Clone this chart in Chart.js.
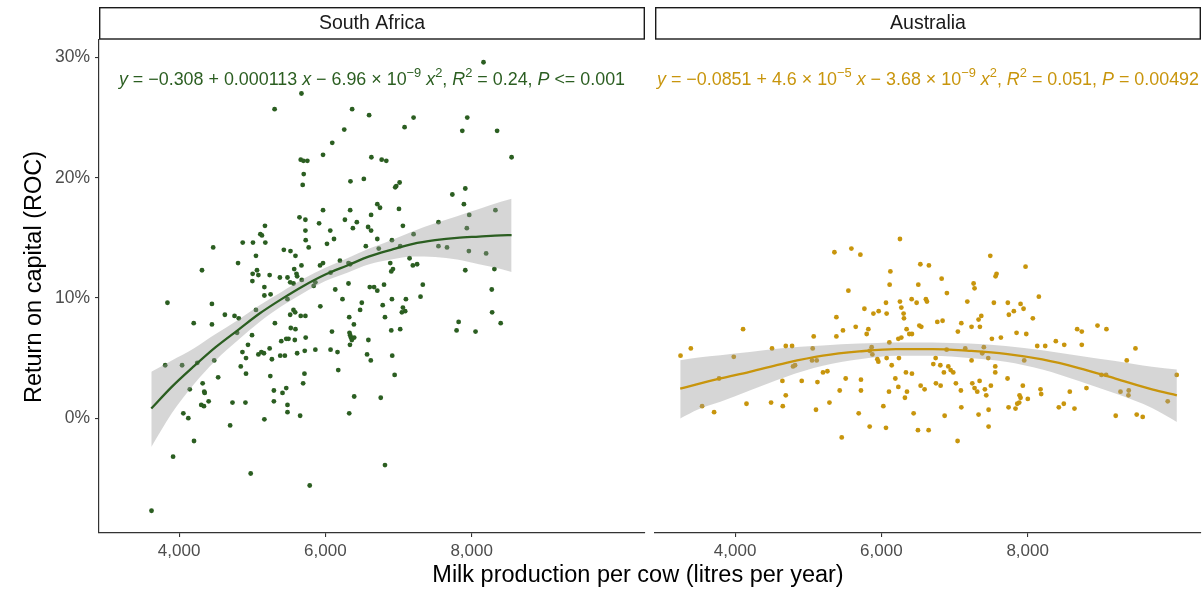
<!DOCTYPE html>
<html>
<head>
<meta charset="utf-8">
<script src="https://cdn.jsdelivr.net/npm/chart.js@4.4.1/dist/chart.umd.min.js"></script>
<style>
  html, body { margin: 0; padding: 0; background: #ffffff; }
  #wrap { position: relative; width: 1204px; height: 590px; }
  canvas { position: absolute; top: 0; }
  #saCanvas { left: 0; }
  #auCanvas { left: 650px; }
</style>
</head>
<body>
<div id="wrap">
  <canvas id="saCanvas" width="1204" height="590"></canvas>
  <canvas id="auCanvas" width="554" height="590"></canvas>
</div>
<script>
// ---- axis ticks and ranges ----
const milkTicks = [4000, 6000, 8000];
const rocTicks = [0, 10, 20, 30];
const milkRange = [2905, 10370];
const rocRange = [-9.55, 31.45];

// ---- South Africa: farms [milk per cow (L/yr), return on capital (%)] ----
const southAfricaFarms = [
  [8162,29.6],[5673,27.0],[5306,25.7],[6366,25.7],[6598,25.2],[6258,24.0],[6094,22.9],[5968,21.9],
  [6629,21.7],[6770,21.5],[6833,21.4],[5663,21.5],[5700,21.4],[5754,21.4],[5704,20.3],[5690,19.4],
  [6343,19.7],[6526,19.9],[6710,17.8],[6747,17.5],[5968,17.3],[6339,17.3],[5646,16.7],[5727,16.5],
  [6267,16.5],[6430,16.3],[6625,16.9],[5914,16.2],[5174,16.0],[5111,15.3],[5133,15.2],[5727,15.6],
  [6067,15.6],[6376,15.8],[6584,15.9],[6625,15.6],[4466,14.2],[4870,14.6],[5010,14.6],[5179,14.6],
  [5731,14.8],[5772,14.2],[6022,14.5],[6118,14.9],[6553,14.3],[6710,14.9],[6730,14.1],[5432,14.0],
  [5523,13.9],[5591,13.5],[5051,13.5],[4806,12.9],[4313,12.3],[5006,12.0],[5065,12.3],[5084,11.9],
  [5002,11.4],[5238,11.9],[5378,11.7],[5482,11.7],[5519,11.3],[5564,11.2],[5574,12.4],[5605,12.0],
  [5614,11.8],[5673,12.7],[5677,11.5],[5927,12.7],[5968,12.9],[6199,13.1],[6316,12.9],[6339,12.8],
  [5863,11.3],[5840,11.0],[6071,12.1],[6316,11.2],[6607,10.9],[6666,10.9],[6710,10.6],[6802,11.1],
  [6135,10.7],[6234,9.9],[6498,9.6],[6475,9.0],[6784,9.4],[5931,9.3],[5166,10.9],[5251,10.3],
  [5166,10.2],[5051,9.0],[4449,9.5],[3841,9.6],[4626,8.6],[4758,8.5],[4816,8.3],[5482,9.9],
  [5564,9.0],[5587,8.8],[5519,8.6],[5663,8.5],[5727,8.5],[6326,8.4],[6815,8.4],[6887,12.9],
  [6901,12.2],[6910,14.8],[6910,9.9],[4200,7.9],[4449,7.8],[5310,7.9],[6390,7.8],[6901,7.3],
  [4793,7.1],[4997,6.9],[4942,6.1],[5397,6.4],[5465,6.6],[5496,6.6],[5527,7.5],[5591,7.4],
  [5582,6.5],[5731,6.7],[6090,7.2],[6330,7.1],[6339,6.9],[6349,6.7],[6362,6.5],[6394,6.7],
  [6336,6.1],[6588,6.5],[6914,5.2],[3810,4.4],[4041,4.4],[4249,4.6],[4480,4.8],[4866,5.5],
  [4915,5.0],[4843,4.3],[4915,3.7],[5084,5.3],[5125,5.5],[5160,5.4],[5238,5.8],[5269,4.9],
  [5383,5.2],[5446,5.2],[5614,5.4],[5718,5.6],[5863,5.7],[6071,5.7],[6166,5.5],[6570,5.3],
  [6621,4.8],[6176,4.0],[5247,3.5],[5714,3.7],[4534,3.4],[4322,2.9],[4146,2.4],[4344,2.2],
  [4350,2.1],[4404,1.4],[4303,1.1],[4340,1.0],[4730,1.3],[4907,1.3],[5296,2.3],[5296,1.4],
  [5414,2.1],[5465,2.5],[5696,2.9],[5482,1.1],[5482,0.5],[5655,0.2],[6394,1.8],[6757,1.7],
  [6326,0.4],[4058,0.4],[4126,0.0],[4698,-0.6],[5166,-0.1],[4204,-1.9],[3918,-3.2],[4979,-4.6],
  [5786,-5.6],[6815,-3.9],[3623,-7.7],[7206,25.0],[7083,24.2],[7940,25.0],[7872,23.9],[8348,23.9],
  [8546,21.7],[6969,19.3],[7015,19.6],[6955,19.2],[7006,17.4],[7736,18.6],[7913,19.1],[7894,17.8],
  [7060,16.0],[7546,16.3],[7206,15.3],[7967,16.9],[8325,17.3],[7934,15.8],[7023,14.3],[7546,14.3],
  [7663,14.2],[7962,13.9],[8198,13.7],[7151,13.3],[7196,12.7],[7254,12.8],[6924,12.4],[7913,12.3],
  [8311,12.4],[7332,11.1],[7301,10.1],[7101,9.9],[7060,9.2],[7091,8.9],[7046,8.8],[8275,10.7],
  [8280,8.8],[7822,8.0],[7794,7.3],[8053,7.2],[8397,7.9],[7023,7.4],[6947,3.6]
];

// South Africa quadratic fit with its confidence band (%)
const saFitMilk  = [3620, 3900, 4200, 4500, 4800, 5100, 5400, 5700, 6000, 6300, 6600, 6900, 7200, 7500, 7800, 8100, 8400, 8546];
const saFitRoc   = [0.8, 2.6, 4.3, 5.9, 7.3, 8.7, 9.9, 11.0, 11.95, 12.7, 13.45, 14.0, 14.5, 14.8, 15.0, 15.1, 15.2, 15.22];
const saBandHigh = [3.85, 4.8, 5.8, 7.0, 8.15, 9.4, 10.5, 11.6, 12.5, 13.3, 14.1, 14.8, 15.55, 16.2, 16.8, 17.4, 18.0, 18.25];
const saBandLow  = [-2.4, 0.4, 2.8, 4.8, 6.45, 8.0, 9.3, 10.4, 11.4, 12.1, 12.8, 13.2, 13.45, 13.4, 13.2, 12.8, 12.4, 12.15];

// ---- Australia: farms [milk per cow (L/yr), return on capital (%)] ----
const australiaFarms = [
  [6254,14.9],[5358,13.8],[5590,14.1],[5713,13.6],[6533,12.8],[6650,12.7],[6123,12.2],[6113,11.1],
  [6505,11.1],[5549,10.6],[6609,9.9],[6623,9.7],[6414,9.9],[6482,9.6],[6063,9.6],[6254,9.7],
  [6273,9.2],[6304,8.7],[6309,8.3],[5768,9.1],[5891,8.7],[5963,8.9],[6072,8.7],[5385,8.4],
  [4109,7.4],[5649,7.6],[5475,7.3],[5822,7.4],[5799,7.0],[6519,7.7],[6546,7.6],[6345,7.4],
  [6382,7.0],[6418,7.0],[5075,6.8],[5385,6.8],[6232,6.6],[6273,6.7],[6109,6.3],[3254,5.2],
  [3395,5.8],[3982,5.1],[4505,5.8],[4693,6.0],[4779,6.0],[5061,5.8],[5052,4.8],[5116,4.8],
  [4792,4.3],[4820,4.4],[5867,5.9],[5840,5.6],[5877,5.3],[5945,4.9],[5959,4.7],[6072,5.0],
  [6141,4.4],[6240,5.0],[5202,3.8],[5262,3.9],[6336,3.8],[6418,3.7],[5512,3.3],[5721,3.2],
  [6191,3.3],[4647,3.1],[4911,3.1],[5126,3.0],[3781,3.3],[6537,2.7],[6232,2.6],[5430,2.3],
  [5721,2.3],[6104,2.2],[6350,2.2],[6322,1.7],[4693,1.9],[5290,1.3],[4156,1.2],[4492,1.3],
  [4652,1.0],[3549,1.0],[3713,0.5],[5106,0.7],[6027,1.0],[6441,0.4],[5690,0.4],[5840,-0.7],
  [6063,-0.8],[6500,-1.0],[6646,-1.0],[5458,-1.6],[7489,13.5],[7971,12.6],[6824,11.6],[7261,11.2],
  [7274,10.8],[7575,12.0],[7561,11.8],[6896,10.4],[7175,9.7],[7538,9.6],[7729,9.6],[7903,9.5],
  [7944,9.1],[7743,8.6],[7811,8.9],[8153,10.1],[8071,8.3],[6765,8.0],[6837,8.1],[7093,7.9],
  [7046,7.2],[7233,7.6],[7329,8.2],[7366,8.5],[7347,7.6],[7848,7.1],[7981,7.0],[7511,6.6],
  [7634,6.7],[8131,6.0],[8240,6.0],[8385,6.4],[8500,6.1],[8677,7.4],[8740,7.2],[8740,6.1],
  [8955,7.7],[9077,7.4],[9474,5.8],[9355,4.8],[6892,5.7],[7147,5.8],[7401,5.9],[7379,5.4],
  [7461,5.0],[7233,4.8],[6742,5.0],[6710,4.5],[6806,4.4],[6915,4.3],[6947,4.0],[6983,3.8],
  [6855,3.8],[7557,4.3],[7557,3.8],[7953,4.8],[6591,2.4],[6746,2.9],[6810,2.7],[7019,2.9],
  [7087,2.3],[7243,2.9],[7274,2.5],[7311,2.2],[7343,3.1],[7415,2.4],[7497,2.7],[7434,1.9],
  [7725,3.3],[7934,2.7],[7889,1.9],[7903,1.7],[7885,1.3],[7858,1.2],[8002,1.6],[8176,2.4],
  [8185,2.0],[8576,2.2],[8804,2.5],[9009,3.6],[9073,3.6],[9269,2.2],[9382,2.3],[9378,1.9],
  [8494,1.2],[8426,0.9],[8640,0.8],[7739,0.9],[7834,0.8],[7093,0.9],[6865,0.2],[7329,0.3],
  [7466,0.7],[7466,-0.7],[7042,-1.9],[9204,0.2],[9491,0.3],[9573,0.1],[10038,3.6],[9915,1.4]
];

// Australia quadratic fit with its confidence band (%)
const auFitMilk  = [3250, 3500, 3800, 4200, 4700, 5200, 5700, 6200, 6700, 7200, 7700, 8200, 8700, 9200, 9700, 10040];
const auFitRoc   = [2.45, 2.85, 3.3, 3.85, 4.6, 5.2, 5.55, 5.75, 5.75, 5.6, 5.35, 4.88, 4.17, 3.29, 2.39, 1.9];
const auBandHigh = [4.82, 5.05, 5.24, 5.5, 5.85, 6.05, 6.2, 6.3, 6.3, 6.2, 6.0, 5.65, 5.2, 4.75, 4.27, 4.05];
const auBandLow  = [-0.02, 0.75, 1.36, 2.3, 3.45, 4.35, 4.9, 5.2, 5.2, 5.0, 4.7, 4.05, 3.1, 2.05, 0.85, -0.31];

// ---- fitted equations shown in each panel: [text, style] ('i' italic, 's' superscript) ----
const M = '\u2212', TIMES = '\u00d7';
const saEquation = [
  ['y','i'],[' = ' + M + '0.308 + 0.000113 ',''],['x','i'],[' ' + M + ' 6.96 ' + TIMES + ' 10',''],[M + '9','s'],[' ',''],
  ['x','i'],['2','s'],[', ',''],['R','i'],['2','s'],[' = 0.24, ',''],['P','i'],[' <= 0.001','']
];
const auEquation = [
  ['y','i'],[' = ' + M + '0.0851 + 4.6 ' + TIMES + ' 10',''],[M + '5','s'],[' ',''],['x','i'],
  [' ' + M + ' 3.68 ' + TIMES + ' 10',''],[M + '9','s'],[' ',''],['x','i'],['2','s'],[', ',''],
  ['R','i'],['2','s'],[' = 0.051, ',''],['P','i'],[' = 0.00492','']
];

const FONT = '"Liberation Sans", Arial, Helvetica, sans-serif';
const SA_COLOR = '#2b5e21';
const AU_COLOR = '#c8950c';
const BAND_FILL = 'rgba(153,153,153,0.4)';

function toPoints(xs, ys) { return xs.map((x, i) => ({ x: x, y: ys[i] })); }

function drawRichText(ctx, parts, cx, baseline, color, size) {
  const fontFor = (style) => {
    const s = style === 's' ? size * 0.72 : size;
    return (style === 'i' ? 'italic ' : '') + s + 'px ' + FONT;
  };
  let total = 0;
  parts.forEach(([t, st]) => { ctx.font = fontFor(st); total += ctx.measureText(t).width; });
  let x = cx - total / 2;
  ctx.fillStyle = color;
  ctx.textAlign = 'left';
  ctx.textBaseline = 'alphabetic';
  parts.forEach(([t, st]) => {
    ctx.font = fontFor(st);
    const y = st === 's' ? baseline - size * 0.42 : baseline;
    ctx.fillText(t, x, y);
    x += ctx.measureText(t).width;
  });
}

// facet strip, equation label and (optionally) shared axis titles
const panelDecor = {
  id: 'panelDecor',
  afterDraw(chart, args, opts) {
    const ctx = chart.ctx, a = chart.chartArea;
    const cx = (a.left + a.right) / 2;
    ctx.save();
    ctx.fillStyle = '#ffffff';
    ctx.fillRect(a.left, 7, a.right - a.left, 32);
    ctx.strokeStyle = '#1a1a1a';
    ctx.lineWidth = 1.4;
    ctx.strokeRect(a.left + 0.7, 7.7, a.right - a.left - 1.4, 31.3);
    ctx.fillStyle = '#1a1a1a';
    ctx.font = '19.5px ' + FONT;
    ctx.textAlign = 'center';
    ctx.textBaseline = 'middle';
    ctx.fillText(opts.strip, cx, 24);

    drawRichText(ctx, opts.equation, cx, 84.5, opts.color, 17.9);

    if (opts.xTitle) {
      ctx.fillStyle = '#000000';
      ctx.font = '23.5px ' + FONT;
      ctx.textAlign = 'center';
      ctx.textBaseline = 'middle';
      ctx.fillText(opts.xTitle, 638, 576);
    }
    if (opts.yTitle) {
      ctx.translate(35, 277);
      ctx.rotate(-Math.PI / 2);
      ctx.fillStyle = '#000000';
      ctx.font = '23.5px ' + FONT;
      ctx.textAlign = 'center';
      ctx.textBaseline = 'middle';
      ctx.fillText(opts.yTitle, 0, 0);
    }
    ctx.restore();
  }
};

function xAxis() {
  return {
    type: 'linear', min: milkRange[0], max: milkRange[1],
    afterBuildTicks: (s) => { s.ticks = milkTicks.map(v => ({ value: v })); },
    afterFit: (s) => { s.height = 57; },
    ticks: {
      autoSkip: false, maxRotation: 0, padding: 4, color: '#4d4d4d',
      font: { family: FONT, size: 17 },
      callback: (v) => Number(v).toLocaleString('en-US')
    },
    grid: { display: true, drawOnChartArea: false, drawTicks: true, tickLength: 4, color: '#333333', lineWidth: 1.1 },
    border: { display: true, color: '#333333', width: 1.2 }
  };
}

function yAxis(visible) {
  return {
    type: 'linear', min: rocRange[0], max: rocRange[1], display: visible,
    afterBuildTicks: (s) => { s.ticks = rocTicks.map(v => ({ value: v })); },
    afterFit: (s) => { if (visible) s.width = 99; },
    ticks: {
      padding: 5, color: '#4d4d4d',
      font: { family: FONT, size: 17.5 },
      callback: (v) => v + '%'
    },
    grid: { display: true, drawOnChartArea: false, drawTicks: true, tickLength: 4, color: '#333333', lineWidth: 1.1 },
    border: { display: true, color: '#333333', width: 1.2 }
  };
}

function panelDatasets(farms, fitX, fitY, hi, lo, color) {
  return [
    { // farms
      type: 'scatter', order: 3,
      data: farms.map(([x, y]) => ({ x: x, y: y })),
      pointRadius: 2.4, pointHoverRadius: 2.4, pointBorderWidth: 0,
      backgroundColor: color, borderColor: color
    },
    { // confidence band, upper edge (filled down to the lower edge)
      type: 'line', order: 2, data: toPoints(fitX, hi),
      borderWidth: 0, borderColor: 'rgba(0,0,0,0)', pointRadius: 0,
      backgroundColor: BAND_FILL, fill: 2, cubicInterpolationMode: 'monotone'
    },
    { // confidence band, lower edge
      type: 'line', order: 2, data: toPoints(fitX, lo),
      borderWidth: 0, borderColor: 'rgba(0,0,0,0)', pointRadius: 0,
      fill: false, cubicInterpolationMode: 'monotone'
    },
    { // fitted curve
      type: 'line', order: 1, data: toPoints(fitX, fitY),
      borderWidth: 2.3, borderColor: color, pointRadius: 0,
      fill: false, cubicInterpolationMode: 'monotone'
    }
  ];
}

function makePanel(canvasId, datasets, padding, showY, decor) {
  return new Chart(document.getElementById(canvasId), {
    type: 'scatter',
    data: { datasets: datasets },
    options: {
      responsive: false, animation: false, devicePixelRatio: 1,
      layout: { padding: padding },
      plugins: { legend: { display: false }, tooltip: { enabled: false }, panelDecor: decor },
      scales: { x: xAxis(), y: yAxis(showY) }
    },
    plugins: [panelDecor]
  });
}

makePanel('saCanvas',
  panelDatasets(southAfricaFarms, saFitMilk, saFitRoc, saBandHigh, saBandLow, SA_COLOR),
  { top: 40, right: 559, bottom: 0, left: 0 }, true,
  { strip: 'South Africa', equation: saEquation, color: SA_COLOR,
    xTitle: 'Milk production per cow (litres per year)', yTitle: 'Return on capital (ROC)' });

makePanel('auCanvas',
  panelDatasets(australiaFarms, auFitMilk, auFitRoc, auBandHigh, auBandLow, AU_COLOR),
  { top: 40, right: 3, bottom: 0, left: 5 }, false,
  { strip: 'Australia', equation: auEquation, color: AU_COLOR });
</script>
</body>
</html>
